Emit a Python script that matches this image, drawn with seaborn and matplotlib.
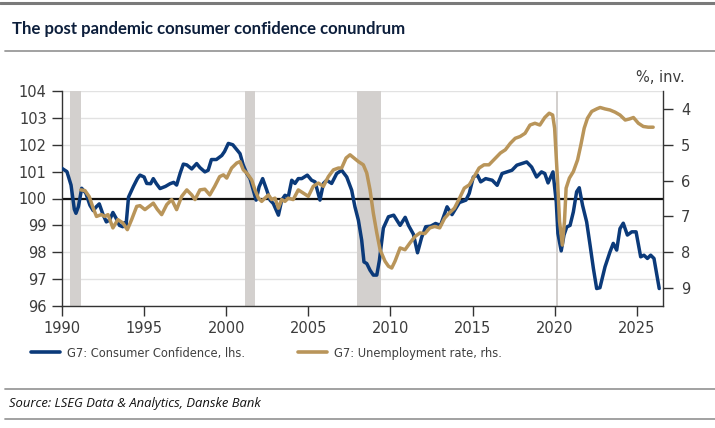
import matplotlib
matplotlib.use("Agg")
import matplotlib.pyplot as plt
import seaborn as sns
import pandas as pd
from matplotlib.lines import Line2D

# ---------------- data ----------------
cc_years = [1990.0, 1990.3, 1990.55, 1990.75, 1990.85, 1991.0, 1991.2, 1991.45, 1991.7, 1991.9,
            1992.1, 1992.27, 1992.5, 1992.7, 1992.9, 1993.1, 1993.3, 1993.5, 1993.7, 1993.8,
            1993.9, 1994.05, 1994.35, 1994.6, 1994.75, 1995.0, 1995.16, 1995.4, 1995.56, 1995.75,
            1995.97, 1996.3, 1996.58, 1996.8, 1996.98, 1997.2, 1997.39, 1997.6, 1997.9, 1998.2,
            1998.4, 1998.7, 1998.9, 1999.1, 1999.4, 1999.73, 1999.9, 2000.13, 2000.4, 2000.6,
            2000.84, 2001.04, 2001.25, 2001.45, 2001.65, 2001.82, 2002.0, 2002.22, 2002.47, 2002.67,
            2002.87, 2003.18, 2003.38, 2003.58, 2003.78, 2003.99, 2004.19, 2004.39, 2004.6, 2004.94,
            2005.2, 2005.41, 2005.71, 2005.92, 2006.12, 2006.42, 2006.73, 2007.03, 2007.34, 2007.64,
            2007.84, 2008.05, 2008.25, 2008.39, 2008.56, 2008.76, 2008.96, 2009.17, 2009.33, 2009.57,
            2009.88, 2010.2, 2010.59, 2010.9, 2011.1, 2011.4, 2011.65, 2011.9, 2012.15, 2012.45,
            2012.75, 2013.05, 2013.45, 2013.75, 2014.2, 2014.6, 2014.8, 2015.05, 2015.3, 2015.5,
            2015.8, 2016.2, 2016.5, 2016.8, 2017.4, 2017.7, 2018.0, 2018.3, 2018.6, 2018.9,
            2019.2, 2019.4, 2019.6, 2019.9, 2020.1, 2020.2, 2020.4, 2020.57, 2020.74, 2020.94,
            2021.14, 2021.34, 2021.5, 2021.7, 2021.95, 2022.16, 2022.36, 2022.56, 2022.76, 2023.07,
            2023.37, 2023.57, 2023.78, 2023.98, 2024.18, 2024.43, 2024.7, 2024.96, 2025.24, 2025.44,
            2025.65, 2025.85, 2026.05, 2026.37]
cc_values = [101.12, 101.0, 100.5, 99.6, 99.45, 99.7, 100.38, 100.2, 99.75, 99.55,
             99.7, 99.8, 99.4, 99.13, 99.2, 99.48, 99.26, 99.0, 98.95, 99.1,
             99.0, 100.05, 100.45, 100.75, 100.87, 100.8, 100.56, 100.55, 100.74, 100.55,
             100.37, 100.45, 100.55, 100.6, 100.5, 100.95, 101.28, 101.25, 101.1, 101.3,
             101.15, 100.99, 101.05, 101.45, 101.45, 101.6, 101.75, 102.05, 102.0, 101.85,
             101.67, 101.24, 100.93, 100.74, 100.31, 99.94, 100.43, 100.74, 100.31, 99.94,
             99.81, 99.38, 99.94, 100.12, 100.06, 100.68, 100.56, 100.74, 100.74, 100.87,
             100.68, 100.62, 99.94, 100.56, 100.68, 100.56, 100.93, 101.05, 100.8, 100.31,
             99.69, 99.19, 98.45, 97.64, 97.58, 97.33, 97.15, 97.15, 97.7, 98.9,
             99.32, 99.38, 99.0, 99.3, 99.0, 98.67, 97.98, 98.55, 98.95, 98.97,
             99.07, 99.0, 99.69, 99.4, 99.85, 99.94, 100.19, 100.8, 100.87, 100.62,
             100.74, 100.68, 100.49, 100.93, 101.05, 101.24, 101.3, 101.36, 101.17, 100.8,
             100.99, 100.93, 100.58, 100.99, 99.87, 98.7, 98.05, 98.64, 98.94, 99.0,
             99.5, 100.25, 100.4, 99.75, 99.13, 98.26, 97.4, 96.65, 96.68, 97.46,
             98.01, 98.33, 98.08, 98.88, 99.08, 98.64, 98.76, 98.76, 97.83, 97.89,
             97.77, 97.89, 97.77, 96.65]

un_years = [1991.15, 1991.4, 1991.66, 1991.9, 1992.1, 1992.4, 1992.6, 1992.8, 1993.1, 1993.4,
            1993.7, 1993.98, 1994.24, 1994.55, 1994.75, 1995.05, 1995.3, 1995.56, 1995.8, 1996.07,
            1996.38, 1996.68, 1996.98, 1997.29, 1997.6, 1997.9, 1998.1, 1998.4, 1998.7, 1999.0,
            1999.3, 1999.6, 1999.83, 2000.03, 2000.33, 2000.64, 2000.84, 2001.04, 2001.25, 2001.55,
            2001.75, 2001.96, 2002.16, 2002.36, 2002.57, 2002.77, 2002.97, 2003.18, 2003.38, 2003.58,
            2003.78, 2004.08, 2004.39, 2004.7, 2005.0, 2005.3, 2005.61, 2005.92, 2006.22, 2006.53,
            2006.83, 2007.03, 2007.3, 2007.54, 2007.78, 2008.05, 2008.35, 2008.56, 2008.76, 2008.96,
            2009.17, 2009.37, 2009.67, 2009.88, 2010.08, 2010.28, 2010.59, 2010.89, 2011.19, 2011.5,
            2011.8, 2012.1, 2012.4, 2012.7, 2013.0, 2013.3, 2013.6, 2013.9, 2014.2, 2014.5,
            2014.8, 2015.1, 2015.4, 2015.7, 2016.0, 2016.3, 2016.7, 2017.0, 2017.3, 2017.6,
            2017.9, 2018.2, 2018.5, 2018.8, 2019.1, 2019.4, 2019.67, 2019.88, 2020.0, 2020.17,
            2020.3, 2020.47, 2020.6, 2020.7, 2020.9, 2021.14, 2021.4, 2021.6, 2021.8, 2022.0,
            2022.26, 2022.56, 2022.77, 2023.07, 2023.37, 2023.68, 2023.98, 2024.3, 2024.56, 2024.8,
            2025.1, 2025.4, 2025.7, 2026.0]
un_values = [6.26, 6.28, 6.45, 6.77, 7.0, 6.95, 7.0, 6.95, 7.32, 7.09,
             7.18, 7.37, 7.09, 6.72, 6.70, 6.81, 6.72, 6.63, 6.8, 6.95,
             6.67, 6.53, 6.81, 6.44, 6.26, 6.40, 6.53, 6.26, 6.24, 6.40,
             6.16, 5.89, 5.84, 5.93, 5.65, 5.51, 5.47, 5.70, 5.79, 5.98,
             6.26, 6.49, 6.58, 6.49, 6.40, 6.53, 6.49, 6.77, 6.53, 6.58,
             6.49, 6.53, 6.26, 6.35, 6.44, 6.16, 6.07, 6.16, 5.89, 5.70,
             5.65, 5.65, 5.37, 5.28, 5.37, 5.47, 5.56, 5.79, 6.26, 6.91,
             7.46, 7.93, 8.25, 8.39, 8.44, 8.25, 7.88, 7.93, 7.74, 7.56,
             7.46, 7.48, 7.32, 7.28, 7.32, 7.05, 6.9, 6.77, 6.5, 6.21,
             6.12, 5.89, 5.65, 5.56, 5.56, 5.42, 5.23, 5.14, 4.96, 4.82,
             4.77, 4.68, 4.45, 4.40, 4.45, 4.24, 4.12, 4.17, 4.54, 5.93,
             7.14, 7.8, 7.14, 6.21, 5.93, 5.75, 5.42, 5.0, 4.54, 4.26,
             4.07, 4.0, 3.96, 4.0, 4.03, 4.09, 4.17, 4.31, 4.28, 4.24,
             4.40, 4.49, 4.51, 4.51]

recession_start = [1990.5, 2001.17, 2007.97, 2020.1]
recession_end = [1991.15, 2001.78, 2009.42, 2020.22]

x_ticks = [1990, 1995, 2000, 2005, 2010, 2015, 2020, 2025]
left_ticks = [96, 97, 98, 99, 100, 101, 102, 103, 104]
right_ticks = [4, 5, 6, 7, 8, 9]

title_text = "The post pandemic consumer confidence conundrum"
source_text = "Source: LSEG Data & Analytics, Danske Bank"
cc_label = "G7: Consumer Confidence, lhs."
un_label = "G7: Unemployment rate, rhs."
right_unit = "%, inv."

# ---------------- style ----------------
BLUE = "#0b3a7a"
GOLD = "#b9955a"
SHADE = "#d3d0ce"
GRID = "#e2e2e2"
TXT = "#3c3c3c"

sns.set_theme(style="white")
plt.rcParams["font.family"] = ["DejaVu Sans"]

W, H = 715, 428
fig = plt.figure(figsize=(W / 100, H / 100), dpi=100)
fig.patch.set_facecolor("white")

L, R, T, B = 62, 663, 91, 306
ax = fig.add_axes([L / W, 1 - B / H, (R - L) / W, (B - T) / H])
ax2 = ax.twinx()

cc_df = pd.DataFrame({"year": cc_years, "value": cc_values})
un_df = pd.DataFrame({"year": un_years, "value": un_values})

for s, e in zip(recession_start, recession_end):
    ax.axvspan(s, e, color=SHADE, lw=0, zorder=0.5)

for t in left_ticks:
    ax.axhline(t, color=GRID, lw=1, zorder=0.4)
ax.axhline(100, color="#111111", lw=1.6, zorder=1.5)

sns.lineplot(data=cc_df, x="year", y="value", ax=ax, color=BLUE, lw=2.5,
             label=cc_label, legend=False, zorder=3)
sns.lineplot(data=un_df, x="year", y="value", ax=ax2, color=GOLD, lw=2.5,
             label=un_label, legend=False, zorder=3)

ax.set_xlim(1990, 2026.6)
ax.set_ylim(96, 104)
ax2.set_ylim(9.5, 3.5)
ax.set_xticks(x_ticks)
ax.set_yticks(left_ticks)
ax2.set_yticks(right_ticks)
ax.set_xlabel("")
ax.set_ylabel("")
ax2.set_xlabel("")
ax2.set_ylabel("")
ax.grid(False)
ax2.grid(False)

for a in (ax, ax2):
    a.spines["top"].set_visible(False)
    for sp in ("left", "right", "bottom"):
        a.spines[sp].set_color("#333333")
        a.spines[sp].set_linewidth(1.0)
ax.spines["right"].set_visible(False)
ax2.spines["left"].set_visible(False)
ax2.spines["bottom"].set_visible(False)

ax.tick_params(axis="both", which="both", direction="out", length=7, width=1,
               color="#333333", labelsize=10.5, labelcolor=TXT, pad=4,
               left=True, bottom=True)
ax2.tick_params(axis="y", direction="out", length=7, width=1, color="#333333",
                labelsize=10.5, labelcolor=TXT, pad=6, right=True)

# right unit label
fig.text(660 / W, 1 - 78 / H, right_unit, ha="center", va="center",
         fontsize=10.5, color=TXT)

# title, source
fig.text(12 / W, 1 - 29 / H, title_text, ha="left", va="center",
         fontsize=12.1, fontweight="bold", color="#0d1f3c", family=["Lato", "DejaVu Sans"])
fig.text(9 / W, 1 - 403 / H, source_text, ha="left", va="center",
         fontsize=9.4, style="italic", color="#111111", family=["Open Sans", "DejaVu Sans"])

# separator lines
def hline(y, x0, x1, color, lw):
    fig.add_artist(Line2D([x0 / W, x1 / W], [1 - y / H, 1 - y / H],
                          transform=fig.transFigure, color=color, lw=lw))

hline(2.5, 0, W, "#7a7a7a", 2.2)
hline(51, 5, W, "#9a9a9a", 1.3)
hline(389, 5, W, "#9a9a9a", 1.3)
hline(419, 5, W, "#9a9a9a", 1.3)

# legend
handles = [Line2D([], [], color=BLUE, lw=2.6), Line2D([], [], color=GOLD, lw=2.6)]
leg = fig.legend(handles, [cc_label, un_label], loc="center left",
                 bbox_to_anchor=(31 / W, 1 - 353 / H), ncol=2, frameon=False,
                 fontsize=8.3, handlelength=2.5, handletextpad=0.6,
                 columnspacing=4.6, borderpad=0, borderaxespad=0)
for t in leg.get_texts():
    t.set_color("#404040")

fig.savefig("out.png", dpi=100, facecolor="white")
